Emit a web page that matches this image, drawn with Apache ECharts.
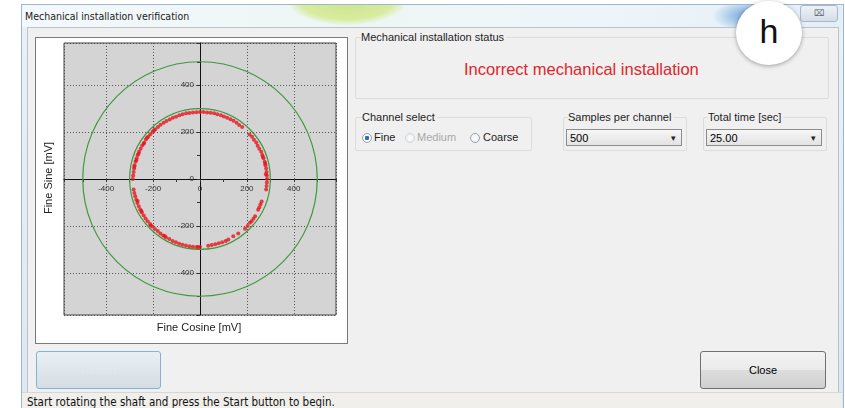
<!DOCTYPE html>
<html>
<head>
<meta charset="utf-8">
<script src="https://cdn.jsdelivr.net/npm/echarts@6/dist/echarts.min.js"></script>
<style>
  html, body { margin: 0; padding: 0; width: 845px; height: 408px; overflow: hidden; background: #fff; font-family: "Liberation Sans", Arial, sans-serif; }
  .abs { position: absolute; }
  #win { left: 21px; top: 4px; width: 821px; height: 404px; border: 1px solid #9fb6cc; border-bottom: none; background: linear-gradient(#e8f1f8, #dce8f2); }
  #titlebar { left: 22px; top: 5px; width: 820px; height: 22px; overflow: hidden;
    background: linear-gradient(90deg, #f3f8fc 0%, #eef6f4 40%, #eef5fa 70%, #e4eef7 100%); }
  #sun { left: 265px; top: -30px; width: 120px; height: 50px; border-radius: 50%;
    background: radial-gradient(ellipse at center, #c9e48a 0%, #d8ec9f 55%, rgba(230,244,200,0) 72%); }
  #swirl { left: 690px; top: -6px; width: 70px; height: 34px; border-radius: 50%;
    background: radial-gradient(ellipse at 60% 50%, #6f8fd0 0%, #9fc4e6 35%, rgba(200,230,240,0) 70%); }
  #title { left: 25px; top: 10px; font-family: "Liberation Sans Narrow", "DejaVu Sans Condensed", sans-serif; font-size: 10.5px; color: #222; }
  #xbtn { left: 800px; top: 5px; width: 36px; height: 15px; border: 1px solid #a9b8c8; border-radius: 3px;
    background: linear-gradient(#eef2f7, #d5dde8); font-size: 9px; color: #667; text-align: center; line-height: 15px; }
  #client { left: 27px; top: 27px; width: 810px; height: 364px; background: #f0f0f0; border: 1px solid #b9c3cc; }
  #panel { left: 35px; top: 37px; width: 311px; height: 305px; background: #fff; border: 1px solid #7a7a7a; }
  #chart { left: 36px; top: 38px; width: 311px; height: 305px; }
  .grp { border: 1px solid #dcdcdc; border-radius: 2px; }
  .lbl { font-size: 11px; color: #1e1e1e; white-space: nowrap; }
  .cap { background: #f0f0f0; padding-right: 2px; }
  #status-msg { left: 464px; top: 60px; font-size: 16.5px; color: #e0262b; white-space: nowrap; }
  .combo { border: 1px solid #8c8c8c; background: linear-gradient(#f6f6f6, #e3e3e3); height: 17px; font-size: 11px; line-height: 17px; padding-left: 3px; box-sizing: border-box; }
  .combo:after { content: "\25BE"; position: absolute; right: 5px; top: 0; font-size: 9px; color: #222; }
  .radio { width: 8px; height: 8px; border-radius: 50%; border: 1px solid #9aa4ae; background: radial-gradient(#fff, #e5e9ee); }
  .btn { border: 1px solid #707070; border-radius: 3px; background: linear-gradient(#f2f2f2 0%, #ebebeb 50%, #dddddd 51%, #cfcfcf 100%); text-align: center; font-size: 11px; }
  #statusbar { left: 22px; top: 392px; width: 820px; height: 16px; background: #f0efec; border-top: 1px solid #d6d6d6; }
  #status-txt { left: 27px; top: 395px; font-family: "Liberation Sans Narrow", "DejaVu Sans Condensed", sans-serif; font-size: 11.5px; color: #111; white-space: nowrap; }
  #hmark { left: 736px; top: 1px; width: 66px; height: 64px; border-radius: 50%; background: #fff; box-shadow: 0 1px 4px rgba(0,0,0,0.35);
    font-family: "Liberation Sans", Arial, sans-serif; font-size: 34px; text-align: center; line-height: 60px; color: #111; }
</style>
</head>
<body>
<div id="win" class="abs"></div>
<div id="titlebar" class="abs">
  <div id="sun" class="abs"></div>
  <div id="swirl" class="abs"></div>
</div>
<div id="title" class="abs">Mechanical installation verification</div>
<div id="xbtn" class="abs">&#x2327;</div>
<div id="client" class="abs"></div>

<div id="panel" class="abs"></div>
<div id="chart" class="abs"></div>

<div class="abs grp" style="left:355px;top:37px;width:472px;height:60px;"></div>
<div class="abs lbl cap" style="left:361px;top:31px;">Mechanical installation status</div>
<div id="status-msg" class="abs">Incorrect mechanical installation</div>

<div class="abs grp" style="left:355px;top:117px;width:175px;height:32px;"></div>
<div class="abs lbl cap" style="left:362px;top:111px;">Channel select</div>
<div class="abs radio" style="left:362px;top:133px;background:radial-gradient(#2d6fb0 0 2px, #fff 2.5px, #e5e9ee);"></div>
<div class="abs lbl" style="left:374px;top:131px;">Fine</div>
<div class="abs radio" style="left:405px;top:133px;border-color:#cfd4d8;"></div>
<div class="abs lbl" style="left:417px;top:131px;color:#a8a8a8;">Medium</div>
<div class="abs radio" style="left:470px;top:133px;"></div>
<div class="abs lbl" style="left:483px;top:131px;">Coarse</div>

<div class="abs grp" style="left:563px;top:117px;width:122px;height:32px;"></div>
<div class="abs lbl cap" style="left:568px;top:111px;">Samples per channel</div>
<div class="abs combo" style="left:566px;top:129px;width:116px;">500</div>

<div class="abs grp" style="left:703px;top:117px;width:122px;height:32px;"></div>
<div class="abs lbl cap" style="left:708px;top:111px;">Total time [sec]</div>
<div class="abs combo" style="left:706px;top:129px;width:116px;">25.00</div>

<div class="abs btn" style="left:36px;top:351px;width:123px;height:36px;border-color:#7fb4d9;background:linear-gradient(#e8f0f5,#d5dde2);color:#e4e8ec;line-height:36px;">Restart</div>
<div class="abs btn" style="left:700px;top:351px;width:124px;height:36px;line-height:36px;">Close</div>

<div id="statusbar" class="abs"></div>
<div id="status-txt" class="abs">Start rotating the shaft and press the Start button to begin.</div>
<div id="hmark" class="abs">h</div>

<script>
  // 轴范围 (mV)
  const axisMin = -580
  const axisMax = 580
  // 参考圆半径 (mV)
  const limitRadii = [300, 500]
  // 采样点: Fine Cosine / Fine Sine (mV)
  const fineCosine = [
    286, 285, 281, 284, 282, 279, 276, 278, 271, 268, 266, 261, 253, 246, 240, 230, 222, 211,
    180, 167, 156, 143, 130, 116, 102, 89, 74, 60, 45, 30, 15, 0,
    -15, -30, -45, -59, -74, -88, -102, -116, -129, -143, -155, -168, -179, -191, -196, -202, -212,
    -221, -226, -231, -238, -240, -247, -253, -260, -262, -266, -270, -272, -275, -279, -280, -281, -283, -285, -287,
    285, 284, 282, 263, 258, 253, 248, 235, 228, 220, 213, 203, 192, 163, 142, 121,
    110, 95, 80, 65, 50, 35, 0, -8,
    -15, -30, -45, -60, -75, -89, -103, -117, -131, -145, -150, -157, -169, -180, -192, -203, -210,
    -213, -223, -232, -240, -248, -250, -255, -261, -266, -267, -272, -276, -280, -283
  ]
  const fineSine = [
    0, 15, 20, 30, 45, 59, 74, 66, 88, 95, 102, 116, 129, 142, 156, 167, 180, 190,
    222, 230, 240, 248, 255, 261, 267, 272, 276, 280, 283, 284, 286, 286,
    285, 284, 282, 280, 276, 272, 266, 261, 254, 247, 240, 231, 222, 212, 208, 202, 191,
    180, 176, 168, 155, 150, 143, 129, 116, 108, 102, 88, 80, 74, 59, 52, 45, 30, 15, 0,
    -15, -30, -45, -96, -108, -120, -131, -159, -170, -180, -187, -200, -212, -232, -244, -258,
    -264, -270, -274, -278, -282, -285, -290, -290,
    -290, -289, -287, -284, -280, -276, -270, -264, -256, -249, -243, -241, -232, -222, -213, -203, -198,
    -192, -180, -168, -156, -143, -136, -130, -116, -94, -102, -88, -74, -60, -45
  ]

  const points = fineCosine.map((c, i) => [c, fineSine[i]])

  const chart = echarts.init(document.getElementById('chart'), null, { renderer: 'canvas' })

  const gridW = 272
  const gridH = 272

  const axisCommon = {
    type: 'value',
    min: axisMin,
    max: axisMax,
    splitNumber: 5,
    axisLine: { onZero: false, lineStyle: { color: '#111', width: 1 } },
    axisTick: { show: true, inside: false, length: 3, lineStyle: { color: '#333' } },
    minorTick: { show: true, splitNumber: 2, length: 3, lineStyle: { color: '#333' } },
    axisLabel: {
      showMinLabel: false,
      showMaxLabel: false,
      fontSize: 8,
      color: '#333',
      margin: 6,
      fontFamily: 'Liberation Sans'
    },
    splitLine: { show: true, lineStyle: { color: '#555', type: [1, 2], width: 1 } }
  }

  chart.setOption({
    animation: false,
    backgroundColor: '#fff',
    grid: {
      left: 28,
      top: 5,
      width: gridW,
      height: gridH,
      show: true,
      backgroundColor: '#d4d4d4',
      borderColor: '#444',
      borderWidth: 1
    },
    // 坐标轴放在原点处 (交叉轴)
    xAxis: Object.assign({}, axisCommon, { position: 'bottom', offset: -gridH / 2 }),
    yAxis: Object.assign({}, axisCommon, { position: 'left', offset: -gridW / 2 }),
    graphic: [
      {
        type: 'text', x: 163, y: 290,
        style: { text: 'Fine Cosine [mV]', fontSize: 11, fill: '#222', fontFamily: 'Liberation Sans', align: 'center', verticalAlign: 'middle' }
      },
      {
        type: 'text', x: 13, y: 140, rotation: Math.PI / 2,
        style: { text: 'Fine Sine [mV]', fontSize: 11, fill: '#222', fontFamily: 'Liberation Sans', align: 'center', verticalAlign: 'middle' }
      }
    ],
    series: [
      {
        name: 'limits',
        type: 'custom',
        data: limitRadii.map(r => [r]),
        clip: true,
        silent: true,
        z: 3,
        renderItem(params, api) {
          const c = api.coord([0, 0])
          const rx = api.size([api.value(0), 0])[0]
          const ry = api.size([0, api.value(0)])[1]
          return {
            type: 'ellipse',
            shape: { cx: c[0], cy: c[1], rx: rx, ry: ry },
            style: { fill: 'none', stroke: '#3d9a3d', lineWidth: 1.2 }
          }
        }
      },
      {
        name: 'samples',
        type: 'scatter',
        symbol: 'circle',
        symbolSize: 4,
        z: 4,
        itemStyle: { color: '#e8141e' },
        data: points
      }
    ]
  })
</script>
</body>
</html>
